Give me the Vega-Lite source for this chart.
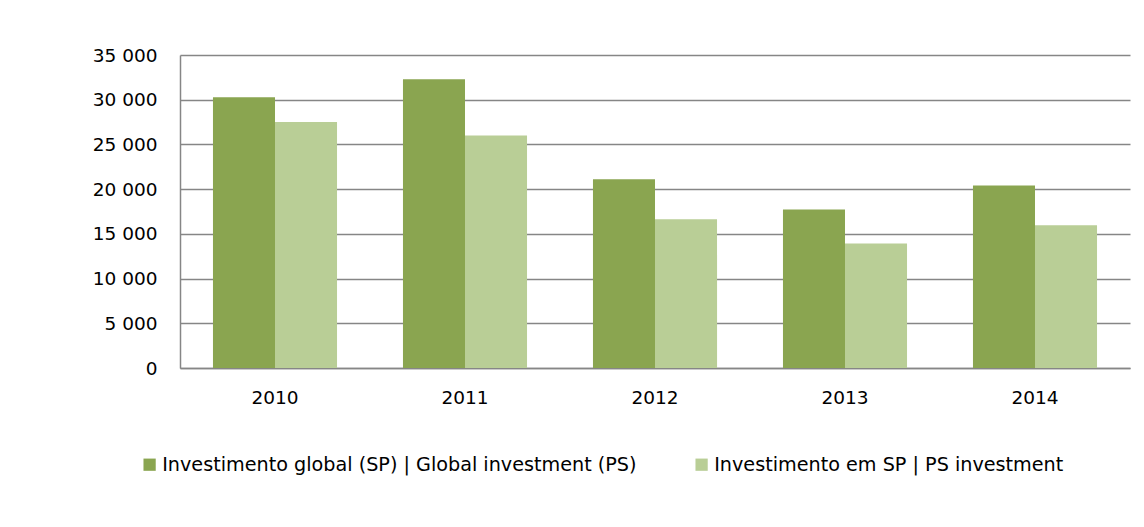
{
  "$schema": "https://vega.github.io/schema/vega-lite/v6.json",
  "width": 950,
  "height": 313,
  "autosize": "none",
  "padding": {"left": 180, "top": 55, "right": 14, "bottom": 159},
  "background": "white",
  "data": {
    "values": [
      {"year": "2010", "series": "Investimento global (SP) | Global investment (PS)", "value": 30270},
      {"year": "2010", "series": "Investimento em SP | PS investment", "value": 27500},
      {"year": "2011", "series": "Investimento global (SP) | Global investment (PS)", "value": 32280},
      {"year": "2011", "series": "Investimento em SP | PS investment", "value": 26000},
      {"year": "2012", "series": "Investimento global (SP) | Global investment (PS)", "value": 21120},
      {"year": "2012", "series": "Investimento em SP | PS investment", "value": 16640},
      {"year": "2013", "series": "Investimento global (SP) | Global investment (PS)", "value": 17730},
      {"year": "2013", "series": "Investimento em SP | PS investment", "value": 13920},
      {"year": "2014", "series": "Investimento global (SP) | Global investment (PS)", "value": 20410},
      {"year": "2014", "series": "Investimento em SP | PS investment", "value": 15970}
    ]
  },
  "mark": {"type": "bar"},
  "encoding": {
    "x": {
      "field": "year",
      "type": "nominal",
      "scale": {"paddingInner": 0.347, "paddingOuter": 0.1735},
      "axis": {
        "title": null,
        "labelAngle": 0,
        "labelFont": "DejaVu Sans",
        "labelFontSize": 18.5,
        "labelColor": "#000000",
        "labelPadding": 20,
        "ticks": false,
        "domainColor": "#868686",
        "domainWidth": 1.5
      }
    },
    "xOffset": {
      "field": "series",
      "sort": ["Investimento global (SP) | Global investment (PS)", "Investimento em SP | PS investment"]
    },
    "y": {
      "field": "value",
      "type": "quantitative",
      "scale": {"domain": [0, 35000], "nice": false},
      "axis": {
        "title": null,
        "values": [0, 5000, 10000, 15000, 20000, 25000, 30000, 35000],
        "labelExpr": "replace(format(datum.value, ',d'), ',', ' ')",
        "labelFont": "DejaVu Sans",
        "labelFontSize": 18.5,
        "labelColor": "#000000",
        "labelPadding": 23,
        "ticks": false,
        "domainColor": "#868686",
        "domainWidth": 1.5,
        "gridColor": "#868686",
        "gridWidth": 1.5
      }
    },
    "color": {
      "field": "series",
      "type": "nominal",
      "scale": {
        "domain": ["Investimento global (SP) | Global investment (PS)", "Investimento em SP | PS investment"],
        "range": ["#8AA550", "#B9CE96"]
      },
      "legend": {
        "title": null,
        "orient": "none",
        "legendX": -40,
        "legendY": 400,
        "direction": "horizontal",
        "padding": 0,
        "symbolType": "square",
        "symbolSize": 150,
        "symbolStrokeWidth": 0,
        "labelFont": "DejaVu Sans",
        "labelFontSize": 19.2,
        "labelColor": "#000000",
        "labelLimit": 700,
        "labelOffset": 3,
        "columnPadding": 55
      }
    }
  },
  "config": {"view": {"stroke": null}}
}
